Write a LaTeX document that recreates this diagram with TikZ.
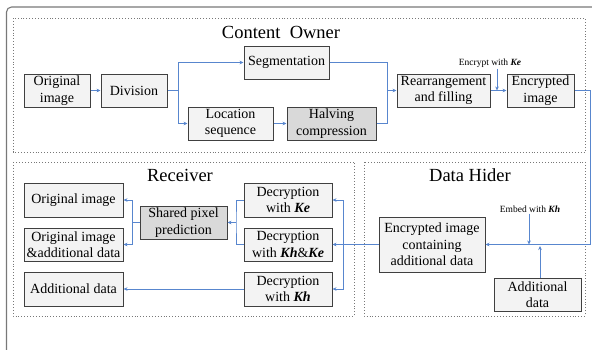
\documentclass[tikz,border=0pt]{standalone}
\usepackage{fontspec}
\setmainfont{Liberation Serif}
\usetikzlibrary{arrows.meta}
\definecolor{lnblue}{RGB}{88,134,206}
\definecolor{boxfill}{RGB}{243,243,243}
\definecolor{boxgray}{RGB}{217,217,217}
\definecolor{boxline}{RGB}{64,64,64}
\definecolor{frame}{RGB}{120,120,120}
\tikzset{
  box/.style={draw=boxline, line width=1pt, fill=boxfill, align=center, inner sep=1pt,
    font=\fontsize{14}{16.3}\selectfont},
  graybox/.style={box, fill=boxgray},
  region/.style={draw=frame, dotted, line width=0.9pt},
  title/.style={font=\fontsize{18.5}{20}\selectfont, inner sep=0pt},
  small/.style={font=\fontsize{9.5}{11}\selectfont, inner sep=1pt},
  conn/.style={draw=lnblue, line width=1pt},
  arr/.style={conn, -{Stealth[length=4pt,width=3.6pt]}},
}
\begin{document}
\begin{tikzpicture}[x=1pt,y=-1pt]
\useasboundingbox (0,0) rectangle (592,349);
% outer frame (partly visible)
\draw[frame, line width=1.1pt, rounded corners=5pt] (6.5,352) -- (6.5,7) -- (600,7);

% regions
\draw[region] (13,18) rectangle (585,152);
\draw[region] (13,162) rectangle (354,316);
\draw[region] (364,162) rectangle (585,316);

\node[title, anchor=base] (tco) at (281,38) {Content\hspace{0.5em}Owner};
\node[title, anchor=base] (trc) at (180,181) {Receiver};
\node[title, anchor=base] (tdh) at (470,181) {Data Hider};

% content owner
\node[box, minimum width=66pt, minimum height=33pt] (orig) at (57,90.5) {Original\\image};
\node[box, minimum width=66pt, minimum height=33pt] (div) at (134,90.5) {Division};
\node[box, minimum width=85pt, minimum height=33pt] (seg) at (286.5,62.5) {Segmentation};
\node[box, minimum width=85pt, minimum height=33pt] (loc) at (230.5,123.5) {Location\\sequence};
\node[graybox, minimum width=89pt, minimum height=33pt] (halv) at (331.5,123.5) {Halving\\compression};
\node[box, minimum width=93pt, minimum height=33pt] (rear) at (443.5,90.5) {Rearrangement\\and filling};
\node[box, minimum width=67pt, minimum height=33pt] (enc) at (540.5,90.5) {Encrypted\\image};
\node[small] (enclab) at (490,63) {Encrypt with \textbf{\textit{Ke}}};

% data hider
\node[box, minimum width=106pt, minimum height=55pt] (eica) at (432,244.5) {Encrypted image\\containing\\additional data};
\node[box, minimum width=87pt, minimum height=33pt] (add) at (537.5,294.5) {Additional\\data};
\node[small] (emblab) at (530,209) {Embed with \textbf{\textit{Kh}}};

% receiver
\node[box, minimum width=88pt, minimum height=34pt] (dke) at (288,200) {Decryption\\with \textbf{\textit{Ke}}};
\node[box, minimum width=88pt, minimum height=33pt] (dkhke) at (288,244.5) {Decryption\\with \textbf{\textit{Kh}}\&\textbf{\textit{Ke}}};
\node[box, minimum width=88pt, minimum height=34pt] (dkh) at (288,289) {Decryption\\with \textbf{\textit{Kh}}};
\node[box, minimum width=99pt, minimum height=34pt] (oi) at (73.5,200) {Original image};
\node[box, minimum width=99pt, minimum height=33pt] (oiad) at (73.5,244.5) {Original image\\\&additional data};
\node[box, minimum width=99pt, minimum height=34pt] (ad2) at (73.5,289) {Additional data};
\node[graybox, minimum width=87pt, minimum height=33pt] (spp) at (183.5,222.5) {Shared pixel\\prediction};

% connectors: content owner
\coordinate (j1) at (178,90.5);
\coordinate (j2) at (387,90.5);
\coordinate (kein) at (497,90.5);
\coordinate (rt) at (590,244.5);
\draw[arr] (orig) -- (div);
\draw[conn] (div.east) -- (j1);
\draw[arr] (j1) |- (seg.west);
\draw[arr] (j1) |- (loc.west);
\draw[arr] (loc) -- (halv);
\draw[conn] (seg.east) -| (j2);
\draw[conn] (halv.east) -| (j2);
\draw[arr] (j2) -- (rear.west);
\draw[arr] (rear) -- (enc);
\draw[arr] (kein |- enclab.south) -- (kein);
\draw[arr] (enc.east) -| (rt) -- (eica.east);

% data hider
\coordinate (khin) at (529,244.5);
\coordinate (adin) at (540,246);
\draw[arr] (khin |- emblab.south) -- (khin);
\draw[arr] (adin |- add.north) -- (adin);

% receiver
\coordinate (j3) at (343,244.5);
\coordinate (j4) at (236,222.5);
\coordinate (j5) at (132,222.5);
\draw[conn] (eica.west) -- (j3);
\draw[arr] (j3) |- (dke.east);
\draw[arr] (j3) -- (dkhke.east);
\draw[arr] (j3) |- (dkh.east);
\draw[conn] (dke.west) -| (j4) |- (dkhke.west);
\draw[arr] (j4) -- (spp.east);
\draw[conn] (spp.west) -- (j5);
\draw[arr] (j5) |- (oi.east);
\draw[arr] (j5) |- (oiad.east);
\draw[arr] (dkh.west) -- (ad2.east);
\end{tikzpicture}
\end{document}
